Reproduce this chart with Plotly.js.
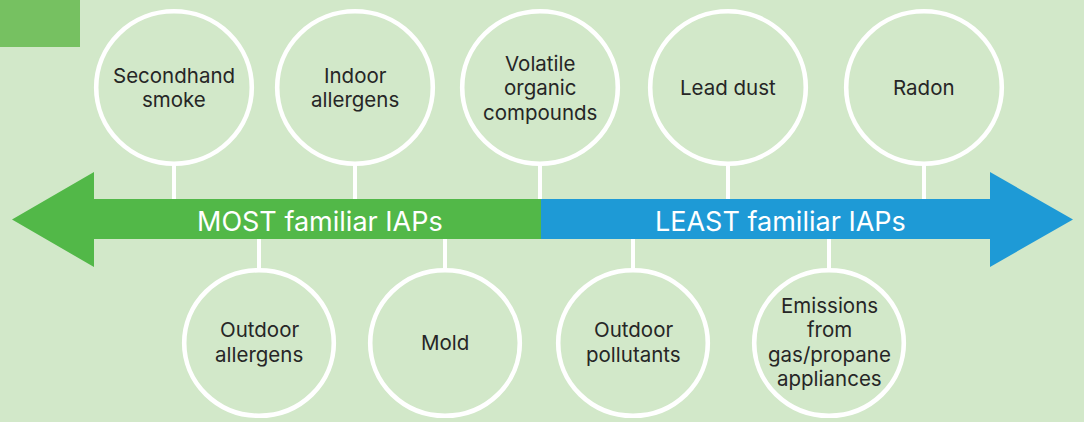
<!DOCTYPE html>
<html>
<head>
<meta charset="utf-8">
<script src="https://cdn.plot.ly/plotly-3.0.1.min.js"></script>
<style>html,body{margin:0;padding:0;background:#d2e8c9;}#chart{width:1084px;height:422px;}</style>
</head>
<body>
<div id="chart"></div>
<script>
// Indoor air pollutants, ordered from most to least familiar
const topLabels = ["Secondhand<br>smoke", "Indoor<br>allergens", "Volatile<br>organic<br>compounds", "Lead dust", "Radon"];
const topPos = [174, 355, 540, 728, 924];
const bottomLabels = ["Outdoor<br>allergens", "Mold", "Outdoor<br>pollutants", "Emissions<br>from<br>gas/propane<br>appliances"];
const bottomPos = [259, 445, 633, 829];
const scaleLabels = ["MOST familiar IAPs", "LEAST familiar IAPs"];
const scaleLabelPos = [320, 780];

const BG = "#d2e8c9", GREEN = "#52b848", BLUE = "#1e9ad6", CORNER = "#76c161";
const FONT = "Inter, 'Open Sans', sans-serif";
const barTop = 199, barBot = 239, barMid = 219.5, split = 541;
const topCy = 87.5, topRx = 77.8, topRy = 76.2;
const botCy = 343, botRx = 74.8, botRy = 72.8;
const LINE = 24.5, LABEL_SIZE = 20.5;

const shapes = [];
const annotations = [];

// corner block
shapes.push({type: "rect", xref: "x", yref: "y", x0: 0, x1: 80, y0: 0, y1: 47, fillcolor: CORNER, line: {width: 0}, layer: "below"});

// arrows
shapes.push({type: "path", xref: "x", yref: "y",
  path: `M12,${barMid} L94,172 L94,${barTop} L${split},${barTop} L${split},${barBot} L94,${barBot} L94,267 Z`,
  fillcolor: GREEN, line: {width: 0}});
shapes.push({type: "path", xref: "x", yref: "y",
  path: `M${split},${barTop} L990,${barTop} L990,172 L1073,${barMid} L990,267 L990,${barBot} L${split},${barBot} Z`,
  fillcolor: BLUE, line: {width: 0}});

function addLabel(text, cx, cy) {
  const lines = text.split("<br>");
  const n = lines.length;
  lines.forEach((ln, k) => {
    annotations.push({x: cx, y: cy + (k - (n - 1) / 2) * LINE, xref: "x", yref: "y", text: ln, showarrow: false,
      font: {family: FONT, size: LABEL_SIZE, color: "#262626"}});
  });
}

topLabels.forEach((t, i) => {
  const cx = topPos[i];
  shapes.push({type: "line", xref: "x", yref: "y", x0: cx, x1: cx, y0: topCy + topRy, y1: barTop, line: {color: "white", width: 4}});
  shapes.push({type: "circle", xref: "x", yref: "y", x0: cx - topRx, x1: cx + topRx, y0: topCy - topRy, y1: topCy + topRy, line: {color: "white", width: 4.6}, fillcolor: "rgba(0,0,0,0)"});
  addLabel(t, cx, topCy);
});
bottomLabels.forEach((t, i) => {
  const cx = bottomPos[i];
  shapes.push({type: "line", xref: "x", yref: "y", x0: cx, x1: cx, y0: barBot, y1: botCy - botRy, line: {color: "white", width: 4}});
  shapes.push({type: "circle", xref: "x", yref: "y", x0: cx - botRx, x1: cx + botRx, y0: botCy - botRy, y1: botCy + botRy, line: {color: "white", width: 4.6}, fillcolor: "rgba(0,0,0,0)"});
  addLabel(t, cx, botCy - 1);
});
scaleLabels.forEach((t, i) => {
  annotations.push({x: scaleLabelPos[i], y: barMid + 2, xref: "x", yref: "y", text: t, showarrow: false, font: {family: FONT, size: 27, color: "white"}});
});

const layout = {
  width: 1084, height: 422,
  margin: {l: 0, r: 0, t: 0, b: 0},
  paper_bgcolor: BG, plot_bgcolor: BG,
  xaxis: {range: [0, 1084], visible: false, fixedrange: true},
  yaxis: {range: [422, 0], visible: false, fixedrange: true},
  showlegend: false,
  shapes: shapes,
  annotations: annotations
};
Plotly.newPlot("chart", [{x: [], y: [], type: "scatter"}], layout, {displayModeBar: false, staticPlot: true});
</script>
</body>
</html>
